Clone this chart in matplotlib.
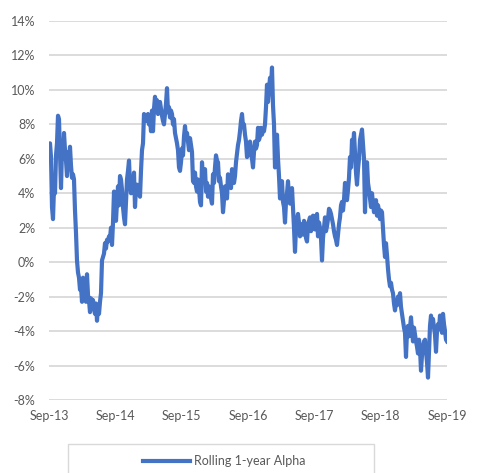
import numpy as np
import pandas as pd
import matplotlib
matplotlib.use('Agg')
import matplotlib.pyplot as plt
import matplotlib.dates as mdates
from matplotlib.patches import Rectangle
from matplotlib.ticker import FuncFormatter

# Rolling 1-year alpha (%), roughly one reading every ~5.5 days
alpha_pct = [
    6.7, 6.9, 6.1, 3.2, 2.5, 4.3, 4.0, 6.2, 6.9, 8.5,
    8.3, 6.2, 4.3, 6.5, 6.0, 7.5, 6.5, 5.9, 5.0, 6.4,
    6.0, 6.7, 5.6, 4.9, 5.1, 4.8, 3.0, 1.7, 0.1, -0.6,
    -0.9, -1.6, -1.4, -2.3, -0.9, -2.2, -1.0, -2.3, -0.7, -1.9,
    -2.2, -2.9, -2.1, -2.5, -2.2, -2.7, -3.0, -2.4, -3.4, -2.6,
    -3.0, -2.3, -1.8, 0.1, 0.3, 0.5, 1.1, 0.8, 1.3, 1.2,
    1.5, 1.4, 2.0, 1.0, 2.3, 4.1, 3.2, 2.4, 3.5, 4.4,
    3.3, 5.0, 4.8, 4.2, 3.2, 2.6, 2.2, 3.5, 4.8, 5.3,
    5.9, 4.5, 4.0, 4.5, 4.4, 5.2, 3.2, 4.3, 4.5, 4.1,
    4.0, 3.8, 5.3, 6.5, 6.9, 8.6, 8.3, 8.5, 8.2, 8.6,
    8.0, 8.4, 7.6, 8.8, 7.6, 8.9, 9.6, 8.8, 9.4, 8.6,
    9.0, 9.3, 8.9, 8.5, 8.2, 8.0, 8.6, 9.2, 10.1, 8.7,
    9.0, 8.4, 8.8, 8.6, 8.0, 8.3, 7.5, 7.2, 6.9, 6.5,
    5.5, 5.3, 5.8, 6.6, 6.2, 7.3, 7.9, 7.2, 7.5, 7.0,
    6.5, 7.2, 6.8, 6.4, 4.7, 4.6, 5.2, 4.4, 4.1, 4.8,
    4.3, 3.5, 3.3, 5.8, 4.9, 4.7, 5.4, 4.1, 4.6, 3.8,
    4.4, 4.2, 3.7, 3.4, 5.1, 4.6, 5.5, 6.2, 5.9, 5.8,
    4.7, 4.9, 4.4, 4.0, 2.9, 3.6, 4.4, 4.0, 3.7, 5.1,
    4.4, 4.7, 4.3, 5.4, 4.9, 4.6, 5.0, 5.8, 6.3, 6.8,
    7.1, 7.6, 8.2, 8.6, 7.9, 8.0, 7.4, 7.0, 6.1, 6.2,
    6.8, 7.0, 6.4, 6.0, 5.5, 6.4, 7.0, 6.6, 6.8, 7.8,
    7.1, 7.3, 7.8, 7.4, 7.7, 7.6, 8.0, 9.0, 10.3, 9.3,
    10.0, 10.7, 10.2, 11.3, 9.1, 8.0, 5.5, 6.3, 7.4, 6.0,
    5.0, 3.7, 4.2, 4.7, 3.5, 3.2, 2.3, 3.5, 4.0, 4.7,
    3.8, 3.4, 3.9, 4.3, 3.2, 2.0, 0.6, 2.0, 2.5, 2.8,
    2.3, 1.5, 2.2, 2.0, 1.6, 2.4, 2.2, 1.4, 1.2, 2.1,
    2.4, 2.6, 1.8, 2.0, 2.7, 2.5, 1.9, 2.6, 2.8, 1.5,
    2.3, 2.0, 1.4, 0.1, 1.4, 2.0, 2.6, 1.8, 2.1, 2.5,
    3.1, 3.0, 2.8, 2.5, 2.2, 1.8, 1.5, 1.3, 1.0, 1.6,
    2.2, 2.6, 3.3, 3.5, 3.0, 3.6, 4.6, 4.0, 3.6, 4.2,
    4.9, 6.1, 5.5, 7.1, 6.6, 7.5, 6.3, 5.2, 4.5, 5.4,
    6.0, 7.1, 7.4, 7.7, 6.8, 6.0, 2.9, 5.0, 5.8, 4.6,
    4.2, 3.7, 3.2, 4.0, 3.4, 2.9, 3.1, 3.6, 2.7, 3.3,
    3.0, 2.5, 3.0, 2.9, 1.9, 1.0, 0.3, 1.1, 0.4, -0.4,
    -1.0, -1.4, -1.2, -1.6, -1.8, -2.4, -2.8, -2.2, -2.5, -2.0,
    -2.3, -1.8, -2.6, -3.0, -3.4, -3.8, -4.1, -5.5, -4.0, -3.7,
    -4.3, -3.8, -3.2, -4.0, -4.6, -3.8, -4.2, -4.6, -4.9, -5.3,
    -4.5, -5.0, -6.3, -5.4, -5.0, -4.6, -4.5, -5.2, -5.8, -6.7,
    -5.2, -3.7, -3.1, -3.6, -3.3, -3.8, -4.2, -5.2, -4.0, -3.6,
    -3.9, -3.1, -3.5, -4.1, -3.0, -3.6, -4.0, -4.5, -4.6,
]
start_date, end_date = '2013-09-01', '2019-09-01'
series_label = 'Rolling 1-year Alpha'

dates = pd.date_range(start_date, end_date, periods=len(alpha_pct))
alpha = np.array(alpha_pct) / 100.0

plt.rcParams['font.family'] = ['Lato', 'DejaVu Sans']

W, H = 478, 473
fig = plt.figure(figsize=(W / 100, H / 100), dpi=100)
ax = fig.add_axes([49 / W, 1 - 400 / H, (447 - 49) / W, (400 - 21) / H])

ax.plot(dates, alpha, color='#4472C4', lw=3.0, solid_joinstyle='round',
        label=series_label, zorder=3)

ax.set_ylim(-0.08, 0.14)
ax.set_yticks(np.arange(-0.08, 0.141, 0.02))
ax.yaxis.set_major_formatter(FuncFormatter(lambda v, p: f'{v * 100:.0f}%'))
ax.set_xlim(pd.Timestamp(start_date), pd.Timestamp(end_date))
ax.xaxis.set_major_locator(mdates.MonthLocator(bymonth=9, bymonthday=1))
ax.xaxis.set_major_formatter(mdates.DateFormatter('%b-%y'))

ax.grid(axis='y', color='#D9D9D9', lw=1.3, zorder=0)
ax.set_axisbelow(True)
for s in ax.spines.values():
    s.set_visible(False)
ax.tick_params(axis='both', length=0, labelsize=9, colors='#595959')
ax.tick_params(axis='y', pad=10)
ax.tick_params(axis='x', pad=7)

# legend box runs off the bottom edge like in the source
fig.add_artist(Rectangle((68 / W, -0.05), (374 - 68) / W, (H - 444) / H + 0.05,
                         transform=fig.transFigure, fill=False,
                         edgecolor='#D9D9D9', lw=1.0))
h, l = ax.get_legend_handles_labels()
fig.legend(h, l, loc='center', bbox_to_anchor=(224 / W, 1 - 461 / H),
           frameon=False, fontsize=9, handlelength=3.8, handletextpad=0.3,
           labelcolor='#595959')

fig.savefig('out.png', dpi=100)
